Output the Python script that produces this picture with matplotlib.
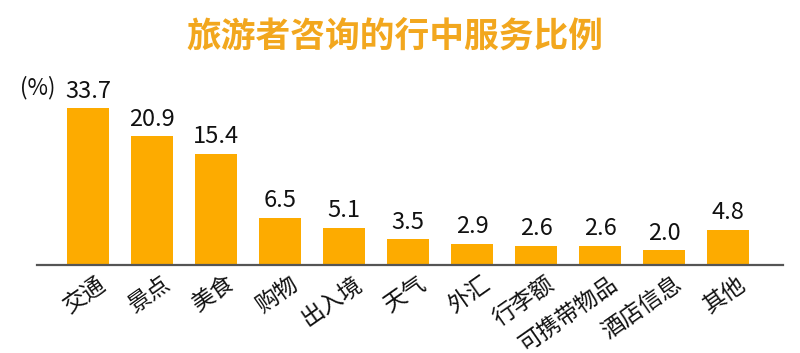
import numpy as np
import matplotlib
matplotlib.use("Agg")
import matplotlib.pyplot as plt
from matplotlib import transforms

plt.rcParams['font.family'] = ['Noto Sans CJK SC', 'DejaVu Sans']

title = "旅游者咨询的行中服务比例"
categories = ["交通", "景点", "美食", "购物", "出入境", "天气", "外汇", "行李额", "可携带物品", "酒店信息", "其他"]
values = [33.7, 20.9, 15.4, 6.5, 5.1, 3.5, 2.9, 2.6, 2.6, 2.0, 4.8]
unit_label = "(%)"

BAR = "#FDAB00"
TITLE_C = "#F2A71E"

# compressed value scale (linear up to 15, logarithmic above), as in the reference
K, C = 15.0, 8.0
def fwd(v):
    v = np.asarray(v, dtype=float)
    vv = np.maximum(v, 1e-9)
    return np.where(v <= K, v, K + C * np.log(vv / K))
def inv(y):
    y = np.asarray(y, dtype=float)
    return np.where(y <= K, y, K * np.exp((y - K) / C))

fig = plt.figure(figsize=(8.0, 3.53), dpi=100)
W, H = 800, 353
ax_l, ax_r, ax_b, ax_t = 37, 783, 265, 60
ax = fig.add_axes([ax_l / W, 1 - ax_b / H, (ax_r - ax_l) / W, (ax_b - ax_t) / H])
ax.set_yscale('function', functions=(fwd, inv))
px_per_unit = 7.3
top_t = (ax_b - ax_t) / px_per_unit
ax.set_ylim(0, float(inv(top_t)))

x = np.arange(len(categories))
ax.bar(x, values, width=0.66, color=BAR, zorder=2)
ax.set_xlim(-0.797, len(categories) - 1 + 0.86)

for xi, v in zip(x, values):
    ax.annotate(f"{v:.1f}", (xi, v), xytext=(0, 4), textcoords='offset points',
                ha='center', va='bottom', fontsize=17, color='#111111')

for s in ['top', 'right', 'left']:
    ax.spines[s].set_visible(False)
ax.spines['bottom'].set_color('#555555')
ax.spines['bottom'].set_linewidth(1.6)
ax.set_yticks([])
ax.set_xticks(x)
ax.set_xticklabels([])
ax.tick_params(axis='x', length=0)

offset = transforms.ScaledTranslation(9 / 100, -7 / 100, fig.dpi_scale_trans)
for xi, lab in zip(x, categories):
    ax.text(xi, 0, lab, transform=ax.get_xaxis_transform() + offset,
            rotation=35, rotation_mode='anchor', ha='right', va='top',
            fontsize=16.5, color='#111111')

fig.text(20 / W, 1 - 88 / H, unit_label, ha='left', va='center', fontsize=16, color='#111111')
fig.text(395 / W, 1 - 37 / H, title, ha='center', va='center', fontsize=25,
         fontweight='bold', color=TITLE_C)

fig.savefig("out.png", dpi=100, facecolor='white')
